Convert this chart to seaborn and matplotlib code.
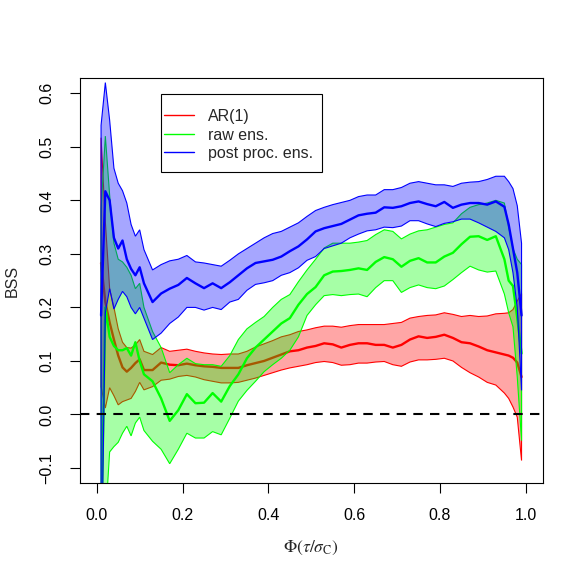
import numpy as np
import matplotlib
matplotlib.use("Agg")
import matplotlib.pyplot as plt
from matplotlib.patches import Rectangle
import seaborn as sns

# x grid (quantile level)
phi = [0.01, 0.02, 0.03, 0.04, 0.05, 0.06, 0.07, 0.08, 0.09, 0.10, 0.11,
       0.13, 0.15, 0.17, 0.19, 0.21, 0.23, 0.25, 0.27, 0.29, 0.31,
       0.33, 0.35, 0.37, 0.39, 0.41, 0.43, 0.45, 0.47, 0.49, 0.51,
       0.53, 0.55, 0.57, 0.59, 0.61, 0.63, 0.65, 0.67, 0.69, 0.71,
       0.73, 0.75, 0.77, 0.79, 0.81, 0.83, 0.85, 0.87, 0.89, 0.91,
       0.93, 0.95,
       0.96, 0.97, 0.98, 0.99]

# AR(1)
ar_mean = [0.283, 0.21, 0.172, 0.14, 0.11, 0.088, 0.08, 0.087, 0.096, 0.103, 0.083,
           0.083, 0.097, 0.093, 0.092, 0.095, 0.092, 0.09, 0.089, 0.087, 0.087,
           0.087, 0.092, 0.096, 0.1, 0.106, 0.112, 0.118, 0.12, 0.125, 0.128,
           0.133, 0.131, 0.125, 0.13, 0.133, 0.133, 0.13, 0.13, 0.125, 0.13,
           0.14, 0.146, 0.143, 0.145, 0.149, 0.143, 0.135, 0.133, 0.127, 0.12,
           0.116, 0.112,
           0.11, 0.106, 0.097, 0.07]
ar_up = [0.517, 0.36, 0.235, 0.2, 0.16, 0.135, 0.125, 0.124, 0.13, 0.14, 0.118,
         0.112, 0.125, 0.118, 0.12, 0.122, 0.118, 0.115, 0.113, 0.112, 0.113,
         0.113, 0.118, 0.126, 0.132, 0.138, 0.145, 0.149, 0.155, 0.158, 0.162,
         0.165, 0.165, 0.163, 0.166, 0.168, 0.168, 0.168, 0.168, 0.17, 0.172,
         0.18, 0.183, 0.185, 0.186, 0.19, 0.187, 0.183, 0.185, 0.183, 0.184,
         0.188, 0.189,
         0.19, 0.196, 0.212, 0.226]
ar_lo = [0.052, 0.012, 0.05, 0.035, 0.018, 0.024, 0.027, 0.03, 0.043, 0.06, 0.046,
         0.052, 0.064, 0.066, 0.071, 0.073, 0.07, 0.065, 0.062, 0.059, 0.059,
         0.06, 0.064, 0.068, 0.073, 0.078, 0.083, 0.087, 0.09, 0.093, 0.097,
         0.099, 0.097, 0.092, 0.093, 0.096, 0.096, 0.098, 0.099, 0.093, 0.09,
         0.098, 0.102, 0.102, 0.103, 0.105, 0.1, 0.088, 0.078, 0.07, 0.06,
         0.055, 0.04,
         0.03, 0.014, -0.005, -0.086]

# raw ensemble
raw_mean = [-0.25, 0.2, 0.145, 0.128, 0.12, 0.12, 0.124, 0.11, 0.135, 0.1, 0.075,
            0.062, 0.03, -0.012, 0.008, 0.038, 0.021, 0.022, 0.04, 0.024, 0.053,
            0.075, 0.105, 0.125, 0.14, 0.155, 0.17, 0.18, 0.205, 0.225, 0.238,
            0.26, 0.267, 0.268, 0.27, 0.273, 0.27, 0.285, 0.294, 0.29, 0.276,
            0.287, 0.292, 0.284, 0.284, 0.295, 0.302, 0.318, 0.332, 0.333, 0.326,
            0.333, 0.29,
            0.25, 0.24, 0.18, 0.114]
raw_up = [0.383, 0.52, 0.41, 0.32, 0.29, 0.285, 0.275, 0.26, 0.235, 0.245, 0.2,
          0.155, 0.125, 0.078, 0.093, 0.105, 0.095, 0.093, 0.093, 0.09, 0.11,
          0.14, 0.16, 0.172, 0.183, 0.2, 0.215, 0.224, 0.248, 0.27, 0.29,
          0.311, 0.32, 0.32, 0.32, 0.322, 0.325, 0.336, 0.345, 0.342, 0.328,
          0.337, 0.343, 0.345, 0.35, 0.355, 0.358, 0.375, 0.387, 0.392, 0.395,
          0.40, 0.395,
          0.35, 0.31, 0.29, 0.28]
raw_lo = [-0.6, -0.2, -0.07, -0.06, -0.052, -0.035, -0.022, -0.04, -0.016, -0.005, -0.03,
          -0.05, -0.065, -0.092, -0.065, -0.035, -0.044, -0.044, -0.032, -0.038, -0.007,
          0.025, 0.045, 0.062, 0.08, 0.093, 0.105, 0.12, 0.145, 0.185, 0.205,
          0.222, 0.224, 0.222, 0.224, 0.225, 0.22, 0.237, 0.25, 0.25, 0.228,
          0.237, 0.242, 0.237, 0.235, 0.24, 0.252, 0.265, 0.277, 0.27, 0.266,
          0.268, 0.225,
          0.19, 0.164, 0.07, -0.049]

# post processed ensemble
pp_mean = [0.185, 0.417, 0.40, 0.33, 0.31, 0.325, 0.29, 0.272, 0.26, 0.275, 0.245,
           0.21, 0.226, 0.235, 0.242, 0.255, 0.245, 0.236, 0.245, 0.236, 0.247,
           0.26, 0.273, 0.283, 0.286, 0.289, 0.295, 0.305, 0.314, 0.327, 0.342,
           0.348, 0.352, 0.356, 0.364, 0.372, 0.375, 0.377, 0.387, 0.386, 0.389,
           0.395, 0.398, 0.393, 0.389, 0.397, 0.386, 0.392, 0.395, 0.395, 0.392,
           0.398, 0.388,
           0.355, 0.31, 0.265, 0.185]
pp_up = [0.54, 0.62, 0.55, 0.46, 0.432, 0.418, 0.395, 0.355, 0.333, 0.345, 0.308,
         0.27, 0.28, 0.287, 0.29, 0.297, 0.285, 0.283, 0.28, 0.277, 0.288,
         0.30, 0.31, 0.32, 0.33, 0.338, 0.342, 0.35, 0.358, 0.37, 0.381,
         0.387, 0.392, 0.396, 0.40, 0.407, 0.41, 0.41, 0.42, 0.42, 0.424,
         0.432, 0.435, 0.432, 0.429, 0.429, 0.426, 0.432, 0.434, 0.435, 0.439,
         0.445, 0.445,
         0.435, 0.422, 0.39, 0.32]
pp_lo = [-0.35, 0.19, 0.235, 0.197, 0.215, 0.23, 0.22, 0.2, 0.188, 0.2, 0.18,
         0.14, 0.152, 0.17, 0.182, 0.2, 0.2, 0.195, 0.2, 0.196, 0.21,
         0.215, 0.232, 0.243, 0.246, 0.25, 0.26, 0.265, 0.274, 0.288, 0.295,
         0.31, 0.315, 0.32, 0.33, 0.337, 0.343, 0.345, 0.35, 0.349, 0.352,
         0.362, 0.362, 0.356, 0.351, 0.357, 0.36, 0.365, 0.365, 0.358, 0.35,
         0.342, 0.33,
         0.308, 0.265, 0.2, 0.045]

series = [
    ("AR(1)", "#ff0000", ar_mean, ar_up, ar_lo),
    ("raw ens.", "#00ff00", raw_mean, raw_up, raw_lo),
    ("post proc. ens.", "#0000ff", pp_mean, pp_up, pp_lo),
]

sns.set_style("ticks")
plt.rcParams["font.family"] = ["Liberation Sans", "DejaVu Sans"]
plt.rcParams["mathtext.fontset"] = "stix"

FS = 11.5
W = 581
fig = plt.figure(figsize=(5.81, 5.81), dpi=100)
ax = fig.add_axes([79.6 / W, 1 - 483 / W, 463.4 / W, 404.7 / W])

x = np.array(phi)
for name, col, mean, up, lo in series:
    # shaded band with thin outline, then the mean line on top
    xs = np.concatenate([x, x[::-1]])
    ys = np.concatenate([np.array(up), np.array(lo)[::-1]])
    rgba = matplotlib.colors.to_rgba(col, 0.35)
    ax.fill(xs, ys, facecolor=rgba, edgecolor=col, lw=0.8, zorder=2)
    sns.lineplot(x=x, y=mean, color=col, lw=1.7, label=name, ax=ax, zorder=2)

ax.axhline(0, color="black", lw=1.5, dashes=(4.5, 3.5), zorder=3)

ax.set_xlim(-0.04, 1.04)
ax.set_ylim(-0.128, 0.628)
ax.set_xticks([0.0, 0.2, 0.4, 0.6, 0.8, 1.0])
ax.set_xticklabels(["0.0", "0.2", "0.4", "0.6", "0.8", "1.0"])
ax.set_yticks([-0.1, 0.0, 0.1, 0.2, 0.3, 0.4, 0.5, 0.6])
ax.set_yticklabels(["\u22120.1", "0.0", "0.1", "0.2", "0.3", "0.4", "0.5", "0.6"])
ax.tick_params(axis="both", direction="out", length=7.2, width=0.8,
               labelsize=FS, pad=11, color="black", labelcolor="black")
plt.setp(ax.get_yticklabels(), rotation=90, va="center")
for sp in ax.spines.values():
    sp.set_visible(True)
    sp.set_linewidth(0.8)
    sp.set_color("black")

ax.set_xlabel(r"$\Phi(\tau/\sigma_{\mathrm{C}})$", fontsize=FS + 1)
ax.xaxis.set_label_coords(0.5, -0.138)
ax.set_ylabel("BSS", fontsize=FS)
ax.yaxis.set_label_coords(-0.13, 0.5)

# legend, R style box drawn separately
leg = ax.legend(loc="upper left", bbox_to_anchor=(164 / W, 1 - 109 / W),
                bbox_transform=fig.transFigure, frameon=False, fontsize=FS,
                borderpad=0, borderaxespad=0, handlelength=1.9,
                handletextpad=0.85, labelspacing=0.22)
for h in leg.get_lines():
    h.set_linewidth(1.0)
fig.patches.append(Rectangle((160.7 / W, 1 - 171.7 / W), 161 / W, 77.7 / W,
                             transform=fig.transFigure, fill=False,
                             edgecolor="black", lw=0.8, zorder=5))

fig.savefig("out.png", dpi=100, facecolor="white")
